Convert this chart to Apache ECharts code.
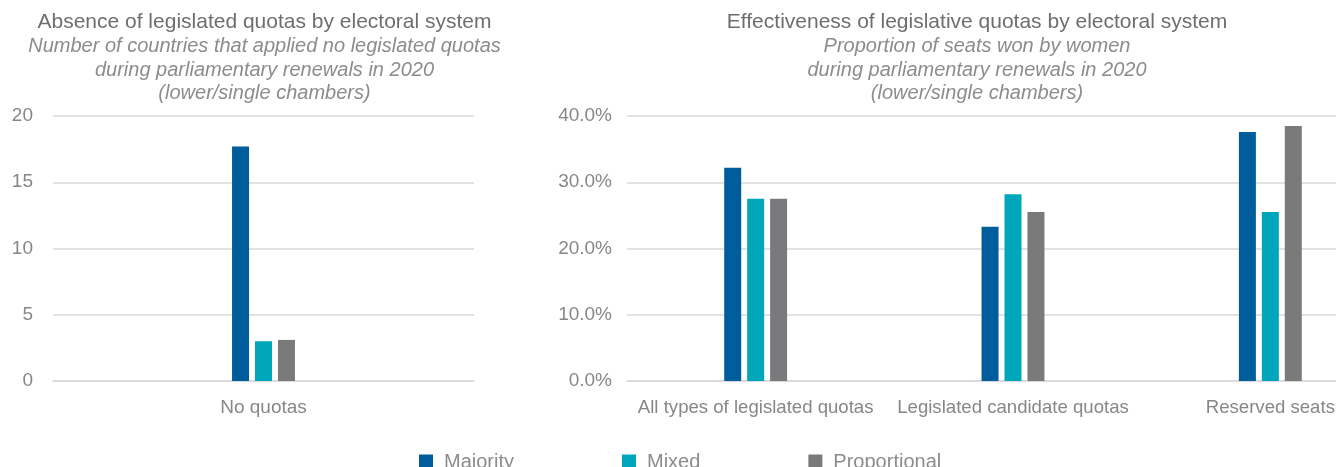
<!DOCTYPE html>
<html>
<head>
<meta charset="utf-8">
<script src="https://cdn.jsdelivr.net/npm/echarts@6/dist/echarts.min.js"></script>
<style>
html,body{margin:0;padding:0;background:#fff;}
#c{width:1336px;height:467px;}
</style>
</head>
<body>
<div id="c"></div>
<script>
const seriesNames = ['Majority', 'Mixed', 'Proportional'];
const colors = ['#005d9b', '#00a6b9', '#7a7a7c'];

const leftCategories = ['No quotas'];
const leftMajority = [17.7];
const leftMixed = [3.0];
const leftProportional = [3.1];
const leftTicks = { min: 0, max: 20, interval: 5 };

const rightCategories = ['All types of legislated quotas', 'Legislated candidate quotas', 'Reserved seats'];
const rightMajority = [32.2, 23.3, 37.6];
const rightMixed = [27.5, 28.2, 25.5];
const rightProportional = [27.5, 25.5, 38.5];
const rightTicks = { min: 0, max: 40, interval: 10 };

const leftTitleLines = ['Absence of legislated quotas by electoral system',
  'Number of countries that applied no legislated quotas',
  'during parliamentary renewals in 2020',
  '(lower/single chambers)'];
const rightTitleLines = ['Effectiveness of legislative quotas by electoral system',
  'Proportion of seats won by women',
  'during parliamentary renewals in 2020',
  '(lower/single chambers)'];

const FONT = '"Liberation Sans", Arial, sans-serif';
const gridColor = '#d9d9d9';
const labelColor = '#878787';
const titleColor = '#6e6e6e';
const subColor = '#8c8c8c';

const chart = echarts.init(document.getElementById('c'), null, { renderer: 'canvas' });

function mkSeries(name, data, idx, axisIdx) {
  return {
    name: name, type: 'bar', data: data,
    xAxisIndex: axisIdx, yAxisIndex: axisIdx,
    barWidth: 17, barGap: '35%',
    itemStyle: { color: colors[idx] },
    emphasis: { disabled: true },
    animation: false
  };
}

function titleBlock(lines, cx) {
  const ys = [22, 46, 70, 93];
  return {
    type: 'group', x: cx, y: 0,
    children: lines.map((t, i) => ({
      type: 'text', x: 0, y: ys[i], silent: true,
      style: {
        text: t,
        font: (i === 0 ? 'normal 21px ' : 'italic 20px ') + FONT,
        fill: i === 0 ? titleColor : subColor,
        align: 'center', verticalAlign: 'middle',
        textAlign: 'center', textVerticalAlign: 'middle'
      }
    }))
  };
}

const option = {
  animation: false,
  textStyle: { fontFamily: FONT },
  graphic: [
    titleBlock(leftTitleLines, 264.5),
    titleBlock(rightTitleLines, 977)
  ],
  legend: {
    data: seriesNames,
    left: 419, top: 452, padding: 0,
    itemWidth: 14, itemHeight: 15, itemGap: 108, icon: 'rect',
    textStyle: { fontFamily: FONT, fontSize: 20, color: subColor, padding: [0, 0, 0, 6] },
    selectedMode: false
  },
  grid: [
    { left: 53, width: 421, top: 116, height: 265, outerBoundsMode: 'none', containLabel: false },
    { left: 627, width: 772, top: 116, height: 265, outerBoundsMode: 'none', containLabel: false }
  ],
  xAxis: [
    {
      type: 'category', gridIndex: 0, data: leftCategories,
      axisLine: { lineStyle: { color: gridColor, width: 1.5 } },
      axisTick: { show: false },
      axisLabel: { color: labelColor, fontSize: 19, margin: 17, fontFamily: FONT }
    },
    {
      type: 'category', gridIndex: 1, data: rightCategories,
      axisLine: { lineStyle: { color: gridColor, width: 1.5 } },
      axisTick: { show: false },
      axisLabel: { color: labelColor, fontSize: 18.6, margin: 17, fontFamily: FONT, interval: 0 }
    }
  ],
  yAxis: [
    {
      type: 'value', gridIndex: 0, min: leftTicks.min, max: leftTicks.max, interval: leftTicks.interval,
      axisLine: { show: false }, axisTick: { show: false },
      splitLine: { lineStyle: { color: gridColor, width: 1.5 } },
      axisLabel: { color: labelColor, fontSize: 19, margin: 20, fontFamily: FONT }
    },
    {
      type: 'value', gridIndex: 1, min: rightTicks.min, max: rightTicks.max, interval: rightTicks.interval,
      axisLine: { show: false }, axisTick: { show: false },
      splitLine: { lineStyle: { color: gridColor, width: 1.5 } },
      axisLabel: { color: labelColor, fontSize: 19, margin: 15, fontFamily: FONT,
        formatter: v => v.toFixed(1) + '%' }
    }
  ],
  series: [
    mkSeries(seriesNames[0], leftMajority, 0, 0),
    mkSeries(seriesNames[1], leftMixed, 1, 0),
    mkSeries(seriesNames[2], leftProportional, 2, 0),
    mkSeries(seriesNames[0], rightMajority, 0, 1),
    mkSeries(seriesNames[1], rightMixed, 1, 1),
    mkSeries(seriesNames[2], rightProportional, 2, 1)
  ]
};
chart.setOption(option);
</script>
</body>
</html>
